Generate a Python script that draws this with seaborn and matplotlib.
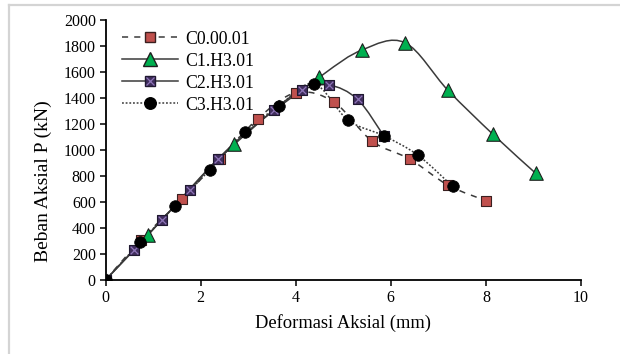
import numpy as np
import pandas as pd
import seaborn as sns
import matplotlib.pyplot as plt
from matplotlib.path import Path
from matplotlib.patches import PathPatch
from matplotlib.lines import Line2D


#%% data

Labels = ["C0.00.01", "C1.H3.01", "C2.H3.01", "C3.H3.01"]

X_C0 = [0, 0.75, 1.6, 2.4, 3.2, 4.0, 4.8, 5.6, 6.4, 7.2, 8.0]
Y_C0 = [0, 310, 620, 930, 1240, 1440, 1370, 1070, 930, 730, 610]

X_C1 = [0, 0.9, 2.7, 4.5, 5.4, 6.3, 7.2, 8.15, 9.05]
Y_C1 = [0, 350, 1050, 1560, 1770, 1825, 1460, 1120, 820]

X_C2 = [0, 0.6, 1.18, 1.77, 2.37, 3.55, 4.13, 4.7, 5.3, 5.85]
Y_C2 = [0, 230, 460, 690, 930, 1310, 1460, 1500, 1390, 1110]

X_C3 = [0, 0.73, 1.46, 2.2, 2.93, 3.65, 4.38, 5.1, 5.85, 6.57, 7.3]
Y_C3 = [0, 290, 570, 850, 1140, 1340, 1510, 1230, 1110, 960, 720]

XTicks = [0, 2, 4, 6, 8, 10]
YTicks = [0, 200, 400, 600, 800, 1000, 1200, 1400, 1600, 1800, 2000]

XLabel = "Deformasi Aksial (mm)"
YLabel = "Beban Aksial P (kN)"


#%% style

FontName = "Liberation Serif"
FontSize_TickLabel = 11.5
FontSize_AxisLabel = 13.3
FontSize_YLabel = 14
FontSize_Legend = 12.8

Line_Color = "#3a3a3a"
Line_Width = 1.1

Red = "#C0504D"
Green = "#00B050"
Purple_Fill = "#3F2D5C"
Purple_X = "#8E74B8"

Fig_Width = 6.2
Fig_Height = 3.54


def smooth_path(xs, ys):
    # Excel-like smoothed line: cubic bezier through the points
    P = np.column_stack([xs, ys]).astype(float)
    n = len(P)
    verts = [P[0]]
    codes = [Path.MOVETO]
    for i in range(n - 1):
        p0 = P[max(i - 1, 0)]
        p1 = P[i]
        p2 = P[i + 1]
        p3 = P[min(i + 2, n - 1)]
        c1 = p1 + (p2 - p0) / 6
        c2 = p2 - (p3 - p1) / 6
        verts += [c1, c2, p2]
        codes += [Path.CURVE4] * 3
    return Path(verts, codes)


df = pd.concat([
    pd.DataFrame({"x": X_C0, "y": Y_C0, "Spec": Labels[0]}),
    pd.DataFrame({"x": X_C1, "y": Y_C1, "Spec": Labels[1]}),
    pd.DataFrame({"x": X_C2, "y": Y_C2, "Spec": Labels[2]}),
    pd.DataFrame({"x": X_C3, "y": Y_C3, "Spec": Labels[3]}),
], ignore_index=True)


Fig = plt.figure(figsize=[Fig_Width, Fig_Height], dpi=100)
ax = plt.axes([105.5 / 620, 74 / 354, 475.5 / 620, 260 / 354])

# smoothed lines
LineStyles = {Labels[0]: (0, (4, 4)), Labels[1]: "-", Labels[2]: "-", Labels[3]: (0, (1.2, 1.2))}
for name in Labels:
    d = df[df["Spec"] == name]
    ax.add_patch(PathPatch(smooth_path(d["x"], d["y"]), fill=False,
                           edgecolor=Line_Color, linewidth=Line_Width,
                           linestyle=LineStyles[name], zorder=2))

# markers
sns.scatterplot(ax=ax, data=df[df["Spec"] == Labels[0]], x="x", y="y",
                marker="s", s=55, color=Red, edgecolor="#3a2020", linewidth=0.8,
                zorder=3, legend=False)
sns.scatterplot(ax=ax, data=df[df["Spec"] == Labels[1]], x="x", y="y",
                marker="^", s=95, color=Green, edgecolor="#1f1f1f", linewidth=0.8,
                zorder=4, legend=False)
sns.scatterplot(ax=ax, data=df[df["Spec"] == Labels[2]], x="x", y="y",
                marker="s", s=50, color=Purple_Fill, edgecolor="#1f1830", linewidth=0.8,
                zorder=5, legend=False)
sns.scatterplot(ax=ax, data=df[df["Spec"] == Labels[2]], x="x", y="y",
                marker="x", s=30, color=Purple_X, linewidth=0.9,
                zorder=6, legend=False)
sns.scatterplot(ax=ax, data=df[df["Spec"] == Labels[3]], x="x", y="y",
                marker="o", s=70, color="black", edgecolor="black", linewidth=0.5,
                zorder=7, legend=False)


# legend
h0 = Line2D([], [], color=Line_Color, linestyle=LineStyles[Labels[0]], linewidth=Line_Width,
            marker="s", markersize=7.4, markerfacecolor=Red, markeredgecolor="#3a2020")
h1 = Line2D([], [], color=Line_Color, linestyle="-", linewidth=Line_Width,
            marker="^", markersize=9.5, markerfacecolor=Green, markeredgecolor="#1f1f1f")
h2a = Line2D([], [], color=Line_Color, linestyle="-", linewidth=Line_Width,
             marker="s", markersize=7.2, markerfacecolor=Purple_Fill, markeredgecolor="#1f1830")
h2b = Line2D([], [], linestyle="none", marker="x", markersize=5.5,
             markeredgecolor=Purple_X, markeredgewidth=0.9)
h3 = Line2D([], [], color=Line_Color, linestyle=LineStyles[Labels[3]], linewidth=Line_Width,
            marker="o", markersize=8.3, markerfacecolor="black", markeredgecolor="black")

ax.legend([h0, h1, (h2a, h2b), h3], Labels, loc="upper left",
          bbox_to_anchor=(0.012, 1.0), frameon=False, handlelength=3.15,
          handletextpad=0.4, labelspacing=0.28, borderaxespad=0.2,
          prop={"family": FontName, "size": FontSize_Legend})


# axes
ax.set_xlim(0, 10)
ax.set_ylim(0, 2000)
ax.set_xticks(XTicks)
ax.set_yticks(YTicks)
ax.set_xticklabels(XTicks, fontsize=FontSize_TickLabel, fontfamily=FontName)
ax.set_yticklabels(YTicks, fontsize=FontSize_TickLabel, fontfamily=FontName)
ax.set_xlabel(XLabel, fontsize=FontSize_AxisLabel, fontfamily=FontName, labelpad=6)
ax.set_ylabel(YLabel, fontsize=FontSize_YLabel, fontfamily=FontName)
ax.yaxis.set_label_coords(-0.113, 0.38)

ax.spines[["right", "top"]].set_visible(False)
ax.spines[["left", "bottom"]].set_linewidth(1.3)
ax.tick_params(width=1.1, length=4, pad=3, colors="black")
ax.set_facecolor("white")

# outer chart border (only left and top edges visible in the crop)
Fig.add_artist(Line2D([9 / 620, 9 / 620], [0, 1 - 5 / 354], transform=Fig.transFigure,
                      color="#d4d4d4", linewidth=1.6))
Fig.add_artist(Line2D([9 / 620, 1], [1 - 5 / 354, 1 - 5 / 354], transform=Fig.transFigure,
                      color="#d4d4d4", linewidth=1.6))

plt.savefig("out.png", dpi=100)
